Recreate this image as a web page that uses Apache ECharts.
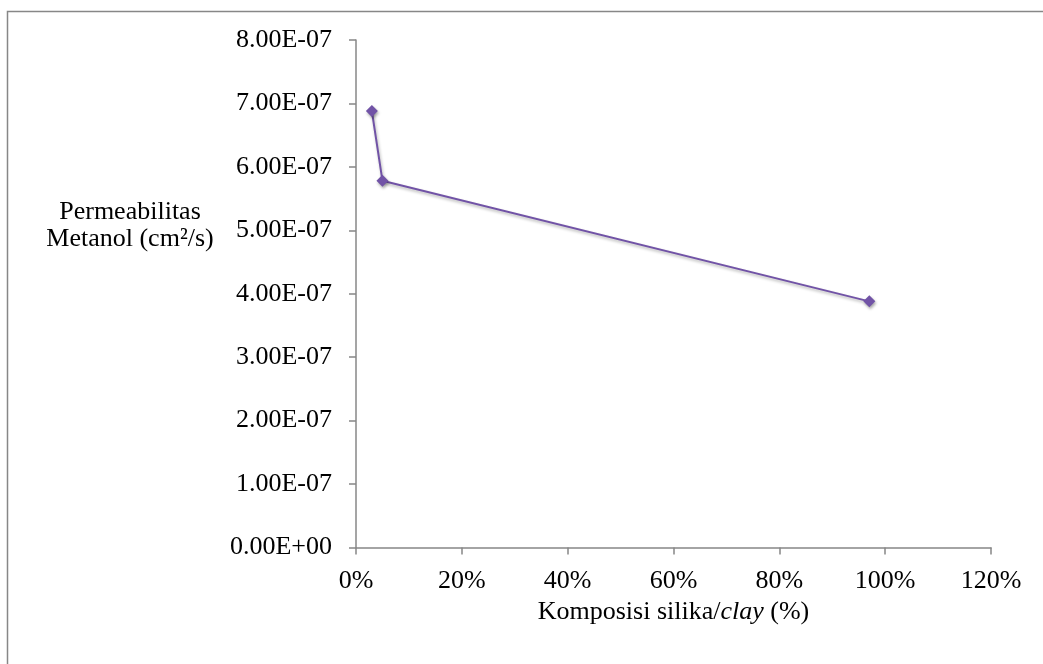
<!DOCTYPE html>
<html>
<head>
<meta charset="utf-8">
<script src="https://cdn.jsdelivr.net/npm/echarts@6/dist/echarts.min.js"></script>
<style>
  html, body { margin: 0; padding: 0; background: #fff; }
  #chart { width: 1043px; height: 664px; }
</style>
</head>
<body>
<div id="chart"></div>
<script>
// komposisi silika/clay (fraksi) dan permeabilitas metanol (cm2/s)
const komposisi = [0.03, 0.05, 0.97]
const permeabilitas = [6.88e-7, 5.78e-7, 3.88e-7]

const xTitle = 'Komposisi silika/{i|clay} (%)'
const yTitle = ['Permeabilitas', 'Metanol (cm\u00b2/s)']

const FONT = '"Liberation Serif", "Times New Roman", serif'
const AXIS_COLOR = '#878787'
const PURPLE = '#7153a6'

// 8e-7 -> "8.00E-07"
const sci = v => {
  if (v === 0) return '0.00E+00'
  const [m, e] = v.toExponential(2).toUpperCase().split('E')
  const n = parseInt(e, 10)
  return m + 'E' + (n < 0 ? '-' : '+') + String(Math.abs(n)).padStart(2, '0')
}

const chart = echarts.init(document.getElementById('chart'))

const option = {
  animation: false,
  backgroundColor: '#fff',
  textStyle: { fontFamily: FONT },
  grid: { left: 356, right: 52, top: 40, bottom: 116.5, containLabel: false },
  graphic: [
    {
      type: 'rect',
      shape: { x: 7.5, y: 11.5, width: 1100, height: 700 },
      style: { fill: 'none', stroke: AXIS_COLOR, lineWidth: 1.5 },
      silent: true
    },
    {
      type: 'text',
      x: 130,
      y: 226,
      style: {
        text: yTitle.join('\n'),
        font: '26px ' + FONT,
        fill: '#000',
        align: 'center',
        verticalAlign: 'middle',
        lineHeight: 27
      },
      silent: true
    }
  ],
  xAxis: {
    type: 'value',
    min: 0,
    max: 1.2,
    interval: 0.2,
    name: xTitle,
    nameLocation: 'middle',
    nameGap: 48,
    nameTextStyle: {
      color: '#000',
      fontFamily: FONT,
      fontSize: 26,
      rich: {
        i: { fontStyle: 'italic', fontFamily: FONT, fontSize: 26, color: '#000' }
      }
    },
    axisLine: { show: true, lineStyle: { color: AXIS_COLOR, width: 1.5 } },
    axisTick: { show: true, length: 7, lineStyle: { color: AXIS_COLOR, width: 1.5 } },
    axisLabel: {
      color: '#000',
      fontFamily: FONT,
      fontSize: 26,
      margin: 21,
      formatter: v => Math.round(v * 100) + '%'
    },
    splitLine: { show: false }
  },
  yAxis: {
    type: 'value',
    min: 0,
    max: 8e-7,
    interval: 1e-7,
    axisLine: { show: true, lineStyle: { color: AXIS_COLOR, width: 1.5 } },
    axisTick: { show: true, length: 7, lineStyle: { color: AXIS_COLOR, width: 1.5 } },
    axisLabel: {
      color: '#000',
      fontFamily: FONT,
      fontSize: 26,
      margin: 24,
      formatter: sci
    },
    splitLine: { show: false }
  },
  series: [
    {
      type: 'line',
      data: komposisi.map((x, i) => [x, permeabilitas[i]]),
      symbol: 'diamond',
      symbolSize: 12,
      itemStyle: {
        color: PURPLE,
        shadowBlur: 3,
        shadowColor: 'rgba(0,0,0,0.35)',
        shadowOffsetX: 1,
        shadowOffsetY: 2
      },
      lineStyle: {
        color: PURPLE,
        width: 2,
        shadowBlur: 3,
        shadowColor: 'rgba(0,0,0,0.3)',
        shadowOffsetX: 1,
        shadowOffsetY: 2
      }
    }
  ]
}

chart.setOption(option)
</script>
</body>
</html>
